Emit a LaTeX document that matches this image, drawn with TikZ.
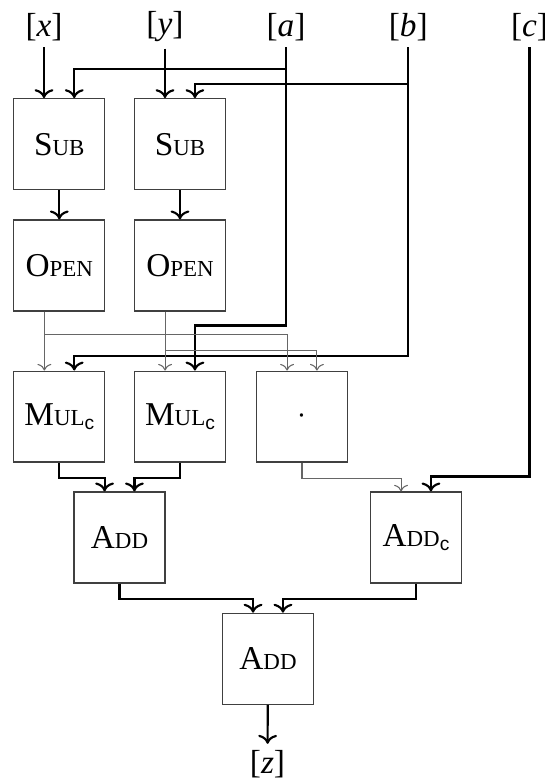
\documentclass[tikz,border=0pt]{standalone}
\usepackage{fontspec}
\setmainfont{Liberation Serif}
\newfontfamily\portfont{Liberation Sans}
\usepackage{tikz}
\usetikzlibrary{arrows.meta, positioning, calc}

\newcommand{\opname}[2]{#1{\fontsize{8.6}{10}\selectfont\MakeUppercase{#2}}}
\newcommand{\subc}{\raisebox{-0.3ex}{\fontsize{7.2}{8}\selectfont\portfont c}}

\begin{document}
\begin{tikzpicture}[x=0.375pt, y=-0.375pt,
    font=\fontsize{12.5}{15}\selectfont,
    box/.style={draw=black!75, line width=0.45pt, minimum width=34.1pt, minimum height=34.1pt, inner sep=0pt},
    port/.style={inner sep=2.2pt},
    wire/.style={thick, ->},
    gwire/.style={black!60, ->}]
    \useasboundingbox (0,0) rectangle (544,780);

    % inputs
    \node[port] (lx) at (44,27) {[\textit{x}]};
    \node[port] (ly) at (165,27) {[\textit{y}]};
    \node[port] (la) at (286,27) {[\textit{a}]};
    \node[port] (lb) at (408.3,27) {[\textit{b}]};
    \node[port] (lc) at (529.5,27) {[\textit{c}]};

    % boxes
    \node[box] (sub1) at (59.3,144.2) {\opname{S}{ub}};
    \node[box] (sub2) at (180,144.2) {\opname{S}{ub}};
    \node[box] (open1) at (59.3,265.5) {\opname{O}{pen}};
    \node[box] (open2) at (180,265.5) {\opname{O}{pen}};
    \node[box] (mul1) at (59.3,416.6) {\opname{M}{ul}\subc};
    \node[box] (mul2) at (180,416.6) {\opname{M}{ul}\subc};
    \node[box] (dotbox) at (302,416.6) {$\cdot$};
    \node[box] (add1) at (119.5,537.5) {\opname{A}{dd}};
    \node[box] (addc) at (416,537.5) {\opname{A}{dd}\subc};
    \node[box] (addz) at (268,658.8) {\opname{A}{dd}};

    % output
    \node[port] (lz) at (267.5,764) {[\textit{z}]};

    % shares in
    \draw[wire] (lx) -- (lx |- sub1.north);
    \draw[wire] (ly) -- (ly |- sub2.north);
    \draw[wire] (la) -- (la |- 0,325.5) -| ([xshift=5.6pt]mul2.north);
    \draw[wire] (la |- 0,69.3) -| ([xshift=5.6pt]sub1.north);
    \draw[wire] (lb) -- (lb |- 0,355.7) -| ([xshift=5.6pt]mul1.north);
    \draw[wire] (lb |- 0,84.3) -| ([xshift=5.6pt]sub2.north);
    \draw[wire] (lc) -- (lc |- 0,476.5) -| ([xshift=5.6pt]addc.north);
    \draw[wire] (sub1) -- (open1);
    \draw[wire] (sub2) -- (open2);

    % opened values
    \draw[gwire] ([xshift=-5.6pt]open1.south) -- ([xshift=-5.6pt]mul1.north);
    \draw[gwire] ([xshift=-5.6pt]open1.south) -- ++(0,23) -| ([xshift=-5.6pt]dotbox.north);
    \draw[gwire] ([xshift=-5.6pt]open2.south) -- ([xshift=-5.6pt]mul2.north);
    \draw[gwire] ([xshift=-5.6pt]open2.south) -- ++(0,38.6) -| ([xshift=5.6pt]dotbox.north);

    % sums
    \draw[wire] (mul1.south) -- ++(0,15.4) -| ([xshift=-5.6pt]add1.north);
    \draw[wire] (mul2.south) -- ++(0,15.4) -| ([xshift=5.6pt]add1.north);
    \draw[gwire] (dotbox.south) -- ++(0,15.4) -| ([xshift=-5.6pt]addc.north);
    \draw[wire] (add1.south) -- ++(0,15.7) -| ([xshift=-5.6pt]addz.north);
    \draw[wire] (addc.south) -- ++(0,15.7) -| ([xshift=5.6pt]addz.north);
    \draw[wire] (addz) -- (lz);
\end{tikzpicture}
\end{document}
